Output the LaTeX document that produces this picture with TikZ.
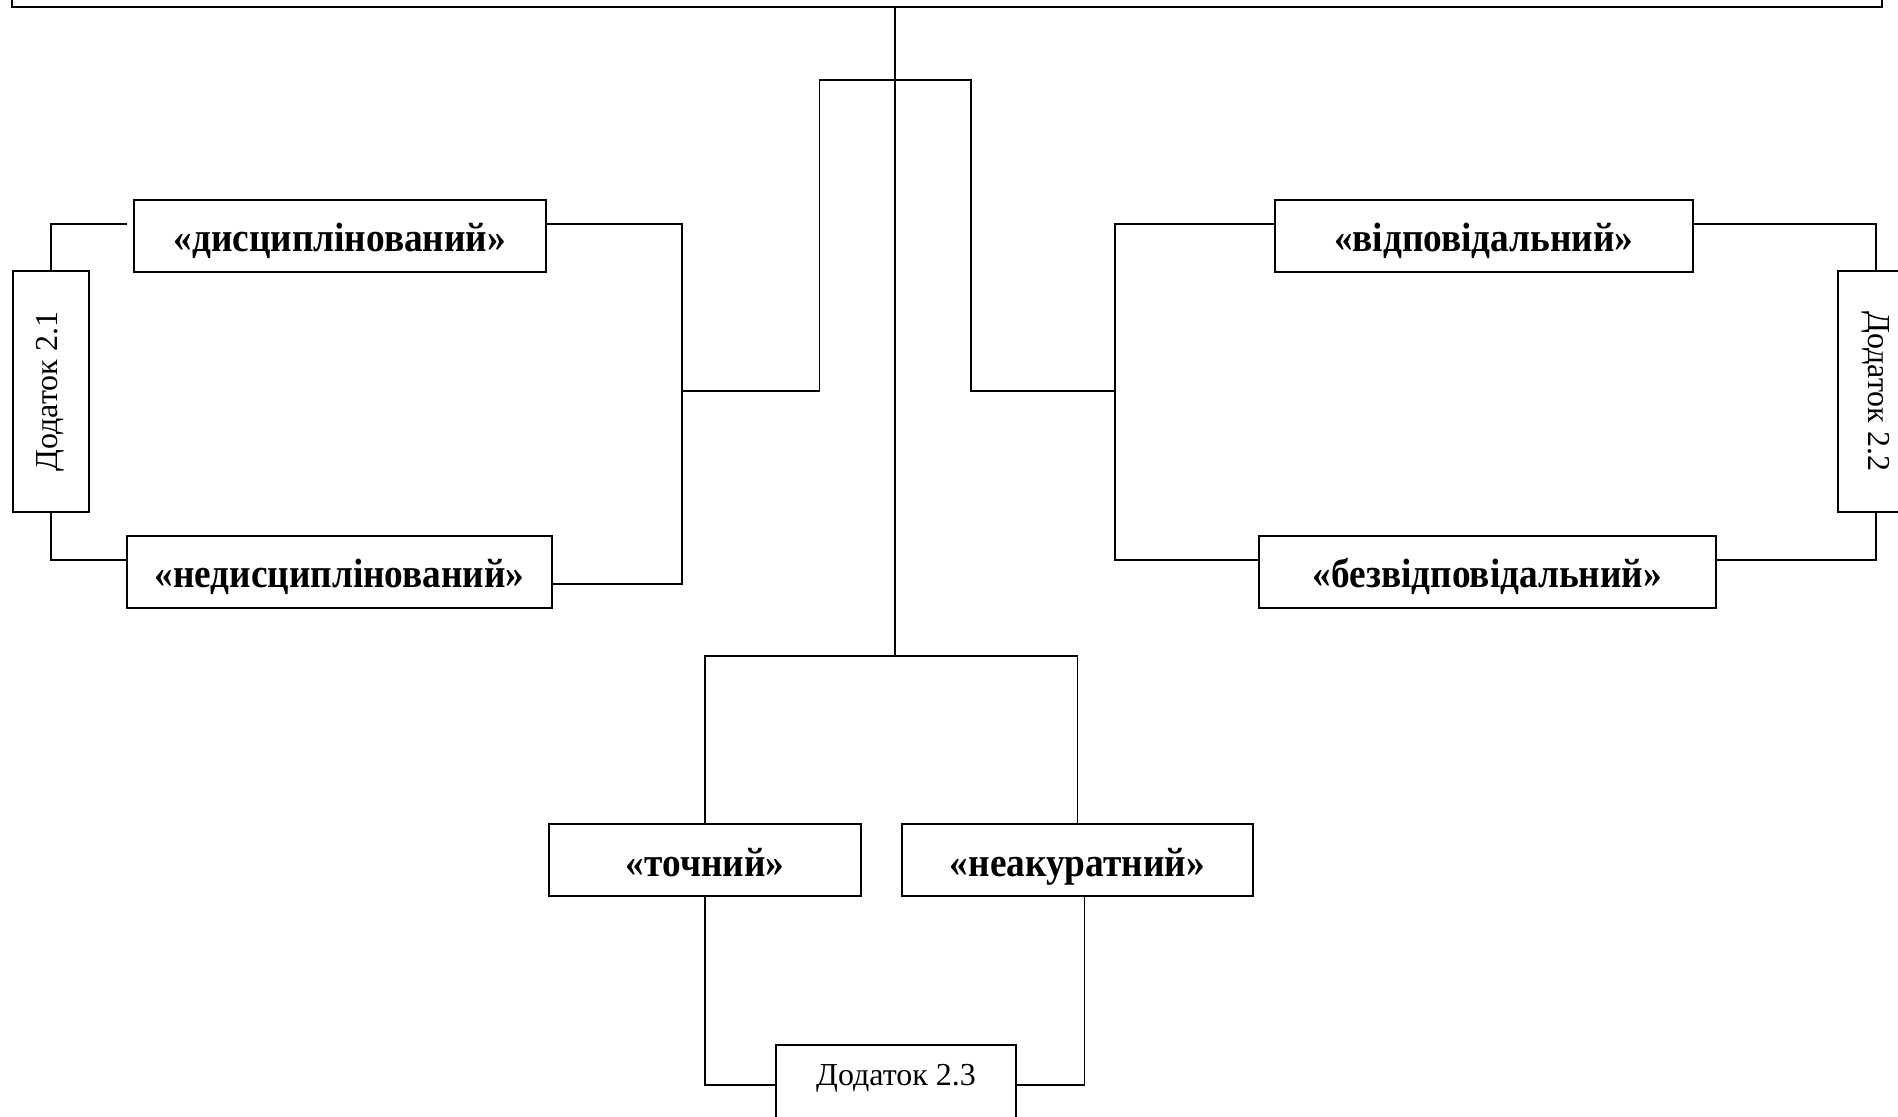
\documentclass[tikz,border=0pt]{standalone}
\usepackage{fontspec}
\setmainfont{Liberation Serif}
\newfontfamily\vuzkyj[FakeStretch=0.91]{Liberation Serif}
\usepackage{tikz}

\begin{document}
\begin{tikzpicture}[x=0.5pt, y=-0.5pt, line width=0.8pt,
    rys/.style={draw, line width=1pt, inner sep=0pt, minimum height=36pt,
      text height=19pt, text depth=3pt,
      font=\vuzkyj\bfseries\fontsize{20.5}{24}\selectfont},
    dodatok/.style={draw, line width=1pt, inner sep=0pt,
      font=\fontsize{16}{19}\selectfont}]
    \useasboundingbox (0,0) rectangle (1898,1116);

    % Верхній блок
    \node[draw, line width=1pt, minimum width=935pt, minimum height=30pt] (top) at (947,-23) {};

    % Риси характеру
    \node[rys, minimum width=205.75pt] (disc) at (339.75,235.8) {«дисциплінований»};
    \node[rys, minimum width=212.8pt] (ndisc) at (339.5,571.7) {«недисциплінований»};
    \node[rys, minimum width=209.2pt] (vidp) at (1483.75,235.7) {«відповідальний»};
    \node[rys, minimum width=228.3pt] (bezv) at (1487.5,571.7) {«безвідповідальний»};
    \node[rys, minimum width=156.2pt] (tochn) at (705,860.2) {«точний»};
    \node[rys, minimum width=175.4pt] (neak) at (1077.4,860.2) {«неакуратний»};

    % Додатки
    \node[dodatok, minimum width=38.2pt, minimum height=120.2pt] (d1) at (50.8,391.5) {\rotatebox{90}{Додаток 2.1}};
    \node[dodatok, minimum width=38.2pt, minimum height=120.2pt] (d2) at (1876,391.5) {\rotatebox{-90}{Додаток 2.2}};
    \node[dodatok, anchor=base, minimum width=120pt, text height=20pt, text depth=40pt] (d3) at (896,1085) {Додаток 2.3};

    % Точки розгалуження
    \coordinate (hub) at (895,80);
    \coordinate (ul) at (819.5,80);
    \coordinate (ur) at (971,80);
    \coordinate (lm) at (682,391);
    \coordinate (rm) at (1114.8,391);
    \coordinate (fork) at (895,656);

    % Стовбур і верхня розвилка
    \draw (top.south -| hub) -- (fork);
    \draw (lm) -| (ul) -- (ur) |- (rm);

    % Ліва гілка
    \draw ([yshift=6pt]disc.east) -| (lm) |- ([yshift=-6pt]ndisc.east);
    \draw[shorten <=3pt] ([yshift=6pt]disc.west) -| (d1.north);
    \draw (d1.south) |- ([yshift=6pt]ndisc.west);

    % Права гілка
    \draw ([yshift=6pt]vidp.west) -| (rm) |- ([yshift=6pt]bezv.west);
    \draw ([yshift=6pt]vidp.east) -| (d2.north);
    \draw (d2.south) |- ([yshift=6pt]bezv.east);

    % Нижня гілка
    \draw (tochn.north) |- (fork) -| (neak.north);
    \draw (tochn.south) |- (d3.base west);
    \draw ([xshift=3.5pt]neak.south) |- (d3.base east);
\end{tikzpicture}
\end{document}
